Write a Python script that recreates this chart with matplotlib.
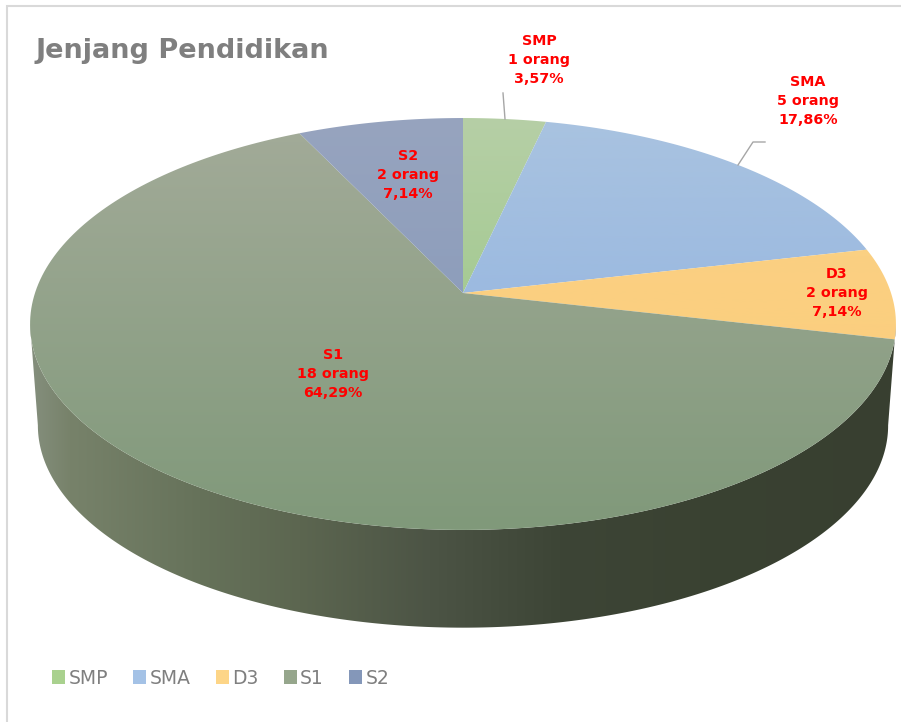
import numpy as np
import matplotlib
matplotlib.use("Agg")
import matplotlib.pyplot as plt
from matplotlib.patches import Polygon, Patch
from matplotlib.colors import to_rgb

categories = ["SMP", "SMA", "D3", "S1", "S2"]
people = [1, 5, 2, 18, 2]
swatch_colors = ["#a9d18e", "#a4c2e6", "#fdd587", "#96a68c", "#8497b9"]
top_colors = ["#b6cfa6", "#a9c3e0", "#fbd287", "#a3ab99", "#97a4bf"]
bottom_colors = ["#8fc47a", "#8aaee0", "#fbcc78", "#80997a", "#8195b6"]
label_centers = [(539, 60), (808, 101), (837, 293), (333, 374), (408, 175)]
side_x = [30, 70, 200, 300, 430, 560, 700, 900]
side_colors = ["#858f7e", "#77826a", "#66725a", "#5c6650", "#4c5445", "#3d4536", "#3a4232", "#383f30"]

# pie geometry in pixels of the 901x722 picture
W, H = 901, 722
CX, AY = 463, 293
C, A, K = 428.0, 201.3, 0.1504
DEPTH_AY, DEPTH_SCALE = 395, 0.982


def project(t, ay=AY, scale=1.0):
    """clockwise angle from 12 o'clock on the round pie -> picture pixels"""
    x, s = np.sin(t), np.cos(t)
    d = 1 + K * s
    return CX + scale * C * x / d, ay - scale * A * s / d


fig = plt.figure(figsize=(W / 100, H / 100), dpi=100, facecolor="white")
ax = fig.add_axes([0, 0, 1, 1])
ax.set_xlim(0, W)
ax.set_ylim(H, 0)
ax.axis("off")

# frame
ax.plot([6.5, 6.5, W], [H, 5.5, 5.5], color="#d9d9d9", lw=1.5, solid_joinstyle="miter", zorder=1)

# side wall: horizontal gradient clipped to the visible rim
ts = np.radians(np.linspace(98.6, 261.4, 400))
tx, ty = project(ts)
bx, by = project(ts, DEPTH_AY, DEPTH_SCALE)
wall = Polygon(np.column_stack([np.r_[tx, bx[::-1]], np.r_[ty, by[::-1]]]), closed=True,
               facecolor="none", edgecolor="none", zorder=2)
ax.add_patch(wall)
side_rgb = np.array([to_rgb(c) for c in side_colors])
grid = np.linspace(0, W, 902)
wall_img = np.stack([np.interp(grid, side_x, side_rgb[:, j]) for j in range(3)], axis=-1)[None, :, :]
im = ax.imshow(wall_img, extent=(0, W, 640, 300), aspect="auto", zorder=2, interpolation="bilinear")
im.set_clip_path(wall)

# top wedges, each with a vertical gradient
total = sum(people)
edges = np.cumsum([0] + people) / total * 2 * np.pi
for i, cat in enumerate(categories):
    t = np.linspace(edges[i], edges[i + 1], 200)
    x, y = project(t)
    pts = np.column_stack([np.r_[CX, x], np.r_[AY, y]])
    patch = Polygon(pts, closed=True, facecolor="none", edgecolor="none", zorder=3)
    ax.add_patch(patch)
    g = np.linspace(0, 1, 256)[:, None, None]
    img = (1 - g) * np.array(to_rgb(top_colors[i])) + g * np.array(to_rgb(bottom_colors[i]))
    im = ax.imshow(img, extent=(0, W, 530, 118), aspect="auto", zorder=3, interpolation="bilinear")
    im.set_clip_path(patch)
ax.set_xlim(0, W)
ax.set_ylim(H, 0)

# leader lines
ax.plot([503, 505], [93, 119], color="#a6a6a6", lw=1, zorder=4)
ax.plot([738, 753, 765], [165, 142, 142], color="#a6a6a6", lw=1, zorder=4)

# data labels
for cat, n, (lx, ly) in zip(categories, people, label_centers):
    pct = f"{n / total * 100:.2f}".replace(".", ",")
    ax.text(lx, ly, f"{cat}\n{n} orang\n{pct}%", color="#ff0000", ha="center", va="center",
            fontsize=10.3, fontweight="bold", linespacing=1.45, zorder=5)

# title
ax.text(36, 58, "Jenjang Pendidikan", color="#7f7f7f", fontsize=19.5, fontweight="bold",
        ha="left", va="baseline", zorder=5)

# legend
handles = [Patch(facecolor=c, edgecolor="none") for c in swatch_colors]
leg = ax.legend(handles, categories, loc="center left", bbox_to_anchor=(52 / W, 1 - 678 / H),
                bbox_transform=fig.transFigure, ncol=5, frameon=False, fontsize=13.5,
                labelcolor="#7f7f7f", handlelength=0.69, handleheight=0.7, handletextpad=0.18,
                columnspacing=1.35, borderpad=0, borderaxespad=0)

fig.savefig("out.png", dpi=100, facecolor="white")
